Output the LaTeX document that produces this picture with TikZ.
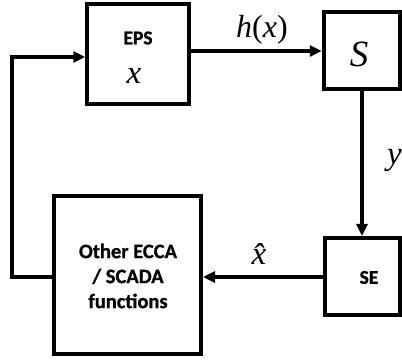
\documentclass[tikz,border=0pt]{standalone}
\usepackage{fontspec}
\setmainfont{Carlito}[BoldFeatures={FakeBold=1}]
\newfontfamily\tms{Liberation Serif}
\usetikzlibrary{arrows.meta}
\tikzset{
  blk/.style={draw, line width=4pt, rectangle, inner sep=0pt},
  boxtext/.style={inner sep=0pt, align=center},
  conn/.style={line width=3.5pt, -{Triangle[length=12pt,width=11pt]}},
  lbl/.style={inner sep=0pt, font=\tms\itshape\fontsize{33}{36}\selectfont}
}
\begin{document}
\begin{tikzpicture}[x=1pt,y=-1pt]
\useasboundingbox (0,0) rectangle (402,363);
\node[blk, minimum width=101.5pt, minimum height=99.5pt] (eps) at (138,54) {};
\node[blk, minimum width=76.5pt, minimum height=77pt] (s) at (362,50.5) {};
\node[blk, minimum width=147pt, minimum height=157.5pt] (oth) at (127.5,275) {};
\node[blk, minimum width=75pt, minimum height=77pt] (se) at (362.5,276.5) {};
% texts
\node[boxtext, font=\bfseries\fontsize{19.5}{22}\selectfont] (epst) at (138,38) {EPS};
\node[lbl] (epsx) at (134,76) {x};
\node[lbl, font=\tms\itshape\fontsize{37}{40}\selectfont] (st) at (359,54) {S};
\node[boxtext, font=\bfseries\fontsize{19.5}{22}\selectfont] (set) at (369,277.5) {SE};
\node[boxtext, font=\bfseries\fontsize{20.5}{25}\selectfont] (otht) at (128,276) {Other ECCA\\/ SCADA\\functions};
% connectors
\coordinate (a1) at (eps.east |- 0,51);
\coordinate (a2) at (s.west |- 0,51);
\draw[conn] (a1) -- (a2);
\draw[conn] (s.south -| 362,0) -- (se.north -| 362,0);
\coordinate (b1) at (se.west |- 0,277);
\coordinate (b2) at (oth.east |- 0,277);
\draw[conn] (b1) -- (b2);
\coordinate (c0) at (oth.west |- 0,277);
\coordinate (c1) at (12,277);
\coordinate (c2) at (12,57);
\coordinate (c3) at (eps.west |- 0,57);
\draw[conn] (c0) -- (c1) -- (c2) -- (c3);
% labels
\node[lbl, font=\tms\fontsize{32}{35}\selectfont] (hx) at (262,30) {\textit{h}(\textit{x})};
\node[lbl] (xh) at (259,254) {\^{x}};
\node[lbl, anchor=west] (yl) at (387,160) {y};
\end{tikzpicture}
\end{document}
